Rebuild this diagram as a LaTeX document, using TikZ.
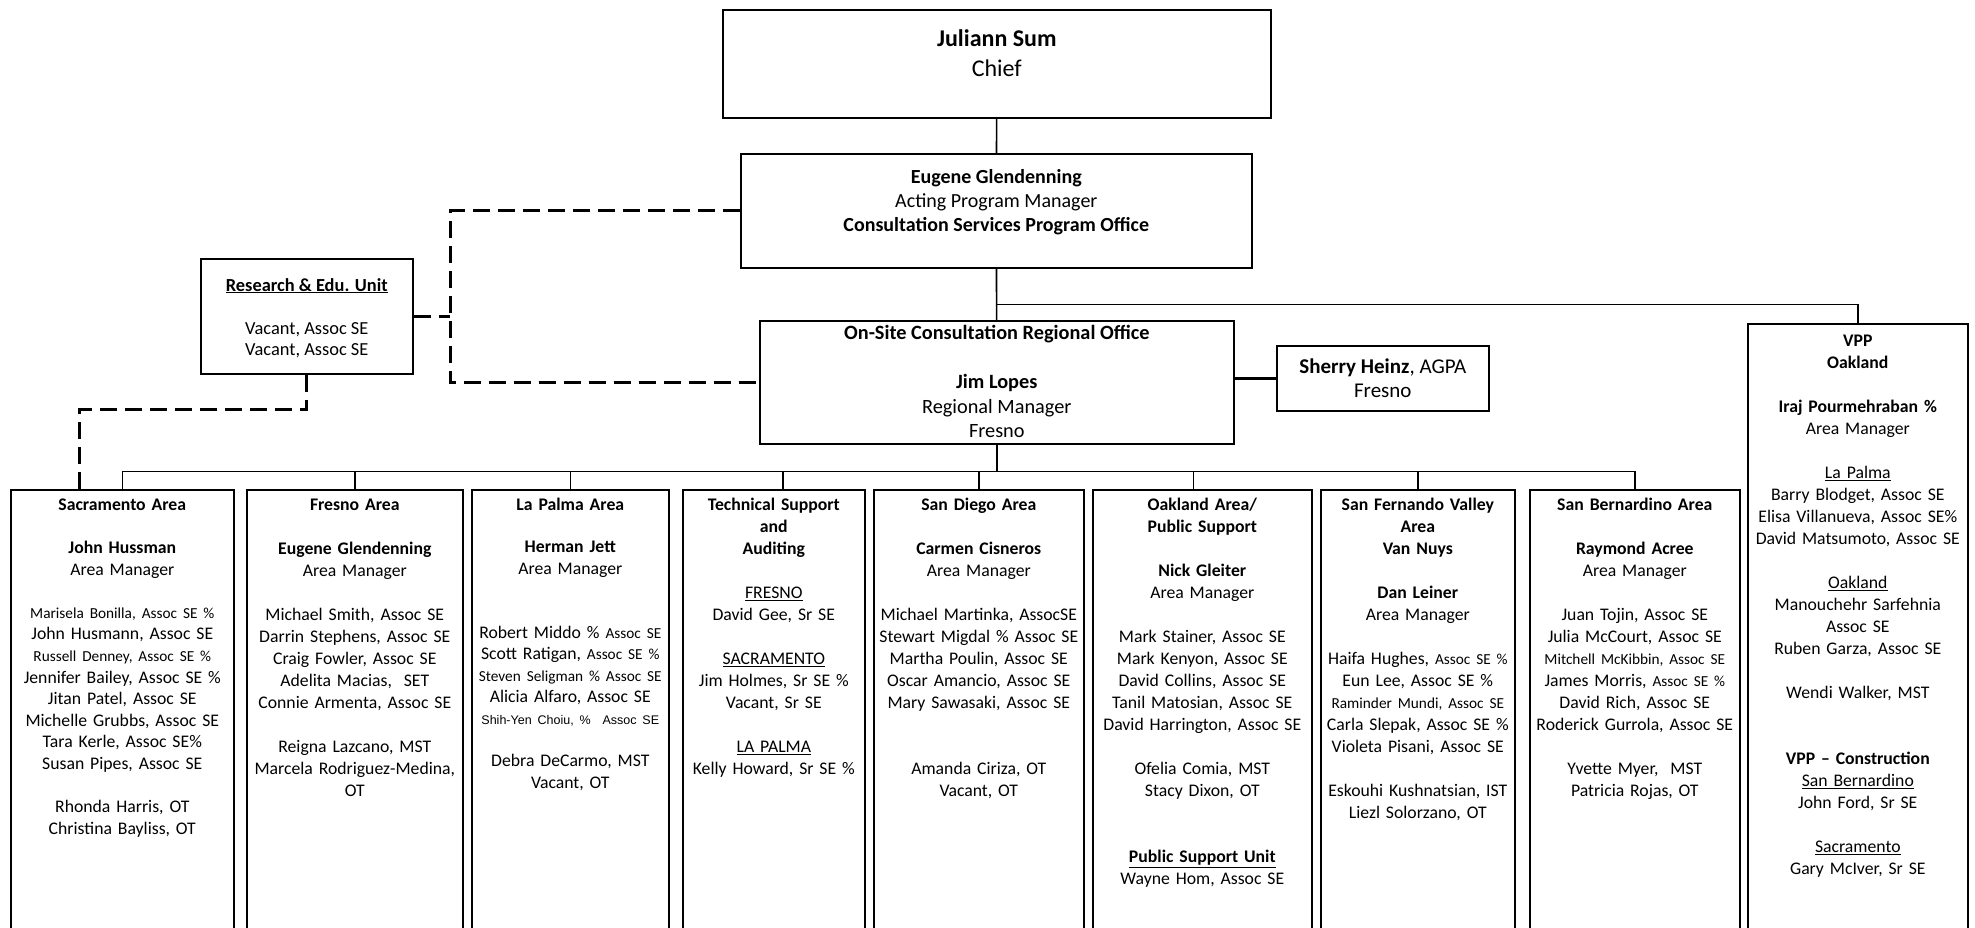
\documentclass[tikz,border=0pt]{standalone}
\usepackage{fontspec}
\setmainfont{Carlito}
\newfontfamily\arialfont{Liberation Sans}

\newcommand{\areafont}{\fontsize{17.7}{22}\selectfont}
\newcommand{\sm}[1]{{\fontsize{15.3}{22}\selectfont #1}}
\newcommand{\blank}{\\[\baselineskip]}

\begin{document}
\begin{tikzpicture}[x=1pt, y=-1pt,
        box/.style={draw, line width=1.6pt, inner sep=0pt, anchor=north west},
        areabox/.style={box, minimum height=456pt},
        txt/.style={anchor=north, align=center, inner sep=0pt, font=\areafont, execute at begin node=\strut},
        link/.style={line width=1.6pt},
        dashline/.style={line width=3pt, dash pattern=on 17pt off 8pt}]
        \useasboundingbox (0,0) rectangle (1975,927);
        \clip (0,0) rectangle (1975,927);

        % the boxes on top
        \node[box, minimum width=548pt, minimum height=108pt] (chief) at (722,9) {};
        \node[box, minimum width=511pt, minimum height=114pt] (eugene) at (740,153) {};
        \node[box, minimum width=212pt, minimum height=115pt] (research) at (200,258) {};
        \node[box, minimum width=474pt, minimum height=123pt] (regional) at (759,320) {};
        \node[box, minimum width=212pt, minimum height=65pt] (sherry) at (1276,345) {};
        \node[box, minimum width=220pt, minimum height=620pt] (vpp) at (1747,323) {};

        % the area boxes
        \node[areabox, minimum width=223pt] (sac) at (10,489) {};
        \node[areabox, minimum width=216pt] (fresno) at (246,489) {};
        \node[areabox, minimum width=197pt] (lapalma) at (471,489) {};
        \node[areabox, minimum width=182pt] (tech) at (682,489) {};
        \node[areabox, minimum width=210pt] (sandiego) at (873,489) {};
        \node[areabox, minimum width=219pt] (oakland) at (1092,489) {};
        \node[areabox, minimum width=194pt] (sfv) at (1320,489) {};
        \node[areabox, minimum width=210pt] (sanbern) at (1529,489) {};

        % the texts
        \node[txt, font=\fontsize{24}{30}\selectfont] (chieftxt) at ([yshift=-20.5pt]chief.north)
            {{\bfseries Juliann Sum}\\Chief};
        \node[txt, font=\fontsize{20}{24}\selectfont] (eugenetxt) at ([yshift=-16.5pt]eugene.north)
            {{\bfseries Eugene Glendenning}\\Acting Program Manager\\{\bfseries Consultation Services Program Office}};
        \node[txt, font=\fontsize{18.4}{21.5}\selectfont] (researchtxt) at ([yshift=-20pt]research.north)
            {\underline{\bfseries Research \& Edu. Unit}\blank Vacant, Assoc SE\\Vacant, Assoc SE};
        \node[txt, font=\fontsize{20.3}{24.5}\selectfont] (regionaltxt) at ([yshift=-5.5pt]regional.north)
            {{\bfseries On-Site Consultation Regional Office}\blank{\bfseries Jim Lopes}\\Regional Manager\\Fresno};
        \node[txt, font=\fontsize{21}{24}\selectfont] (sherrytxt) at ([yshift=-14pt]sherry.north)
            {{\bfseries Sherry Heinz}, AGPA\\Fresno};
        \node[txt, text width=216pt] (vpptxt) at ([yshift=-8pt]vpp.north)
            {{\bfseries VPP}\\{\bfseries Oakland}\blank
             {\bfseries Iraj Pourmehraban \%}\\Area Manager\blank
             \underline{La Palma}\\Barry Blodget, Assoc SE\\Elisa Villanueva, Assoc SE\%\\David Matsumoto, Assoc SE\blank
             \underline{Oakland}\\Manouchehr Sarfehnia\\Assoc SE\\Ruben Garza, Assoc SE\blank
             Wendi Walker, MST\\[2\baselineskip]
             {\bfseries VPP -- Construction}\\\underline{San Bernardino}\\John Ford, Sr SE\blank
             \underline{Sacramento}\\Gary McIver, Sr SE};

        \node[txt, text width=219pt, font=\fontsize{17.7}{21.6}\selectfont] (sactxt) at ([yshift=-6pt]sac.north)
            {{\bfseries Sacramento Area}\blank
             {\bfseries John Hussman}\\Area Manager\blank
             \sm{Marisela Bonilla, Assoc SE \%}\\John Husmann, Assoc SE\\\sm{Russell Denney, Assoc SE \%}\\
             Jennifer Bailey, Assoc SE \%\\Jitan Patel, Assoc SE\\Michelle Grubbs, Assoc SE\\
             Tara Kerle, Assoc SE\%\\Susan Pipes, Assoc SE\blank
             Rhonda Harris, OT\\Christina Bayliss, OT};
        \node[txt, text width=214pt] (fresnotxt) at ([yshift=-6pt]fresno.north)
            {{\bfseries Fresno Area}\blank
             {\bfseries Eugene Glendenning}\\Area Manager\blank
             Michael Smith, Assoc SE\\Darrin Stephens, Assoc SE\\Craig Fowler, Assoc SE\\
             Adelita Macias,~ SET\\Connie Armenta, Assoc SE\blank
             Reigna Lazcano, MST\\Marcela Rodriguez-Medina,\\OT};
        \node[txt, text width=195pt, font=\fontsize{17.7}{21.4}\selectfont] (lapalmatxt) at ([yshift=-6pt]lapalma.north)
            {{\bfseries La Palma Area}\blank
             {\bfseries Herman Jett}\\Area Manager\\[2\baselineskip]
             Robert Middo \% \sm{Assoc SE}\\Scott Ratigan, \sm{Assoc SE \%}\\\sm{Steven Seligman \% Assoc SE}\\
             Alicia Alfaro, Assoc SE\\{\arialfont\fontsize{12.5}{21.4}\selectfont Shih-Yen Choiu, \%~ Assoc SE}\blank
             Debra DeCarmo, MST\\Vacant, OT};
        \node[txt, text width=180pt] (techtxt) at ([yshift=-6pt]tech.north)
            {{\bfseries Technical Support}\\{\bfseries and}\\{\bfseries Auditing}\blank
             \underline{FRESNO}\\David Gee, Sr SE\blank
             \underline{SACRAMENTO}\\Jim Holmes, Sr SE \%\\Vacant, Sr SE\blank
             \underline{LA PALMA}\\Kelly Howard, Sr SE \%};
        \node[txt, text width=208pt] (sandiegotxt) at ([yshift=-6pt]sandiego.north)
            {{\bfseries San Diego Area}\blank
             {\bfseries Carmen Cisneros}\\Area Manager\blank
             Michael Martinka, AssocSE\\Stewart Migdal \% Assoc SE\\Martha Poulin, Assoc SE\\
             Oscar Amancio, Assoc SE\\Mary Sawasaki, Assoc SE\\[2\baselineskip]
             Amanda Ciriza, OT\\Vacant, OT};
        \node[txt, text width=217pt] (oaklandtxt) at ([yshift=-6pt]oakland.north)
            {{\bfseries Oakland Area/}\\{\bfseries Public Support}\blank
             {\bfseries Nick Gleiter}\\Area Manager\blank
             Mark Stainer, Assoc SE\\Mark Kenyon, Assoc SE\\David Collins, Assoc SE\\
             Tanil Matosian, Assoc SE\\David Harrington, Assoc SE\blank
             Ofelia Comia, MST\\Stacy Dixon, OT\\[2\baselineskip]
             \underline{\bfseries Public Support Unit}\\Wayne Hom, Assoc SE};
        \node[txt, text width=192pt] (sfvtxt) at ([yshift=-6pt]sfv.north)
            {{\bfseries San Fernando Valley}\\{\bfseries Area}\\{\bfseries Van Nuys}\blank
             {\bfseries Dan Leiner}\\Area Manager\blank
             Haifa Hughes, \sm{Assoc SE \%}\\Eun Lee, Assoc SE \%\\\sm{Raminder Mundi, Assoc SE}\\
             Carla Slepak, Assoc SE \%\\Violeta Pisani, Assoc SE\blank
             Eskouhi Kushnatsian, IST\\Liezl Solorzano, OT};
        \node[txt, text width=208pt] (sanberntxt) at ([yshift=-6pt]sanbern.north)
            {{\bfseries San Bernardino Area}\blank
             {\bfseries Raymond Acree}\\Area Manager\blank
             Juan Tojin, Assoc SE\\Julia McCourt, Assoc SE\\\sm{Mitchell McKibbin, Assoc SE}\\
             James Morris, \sm{Assoc SE \%}\\David Rich, Assoc SE\\Roderick Gurrola, Assoc SE\blank
             Yvette Myer,~ MST\\Patricia Rojas, OT};

        % the solid lines
        \draw[link] (chief) -- (eugene);
        \draw[link] (eugene) -- (regional);
        \draw[link] ([yshift=-36pt]eugene.south) -| (vpp.north);
        \draw[line width=3.2pt] (sherry.west) -- (sherry.west -| regional.east);
        \coordinate (bus) at ([yshift=-27pt]regional.south);
        \draw[link] (regional) -- (bus);
        \draw[link] (bus) -| (sac.north);
        \draw[link] (bus) -| (fresno.north);
        \draw[link] (bus) -| (lapalma.north);
        \draw[link] (bus) -| ([xshift=9pt]tech.north);
        \draw[link] (bus) -| (sandiego.north);
        \draw[link] (bus) -| ([xshift=-9pt]oakland.north);
        \draw[link] (bus) -| (sfv.north);
        \draw[link] (bus) -| (sanbern.north);

        % the dashed lines
        \draw[dashline] (eugene.west) -- ++(-290,0) coordinate (dashtop) |- (regional.west);
        \draw[dashline] (research.east) -- (research.east -| dashtop);
        \draw[dashline] (research.south) -- ++(0,35) -| ([xshift=-43pt]sac.north);

    \end{tikzpicture}
\end{document}
